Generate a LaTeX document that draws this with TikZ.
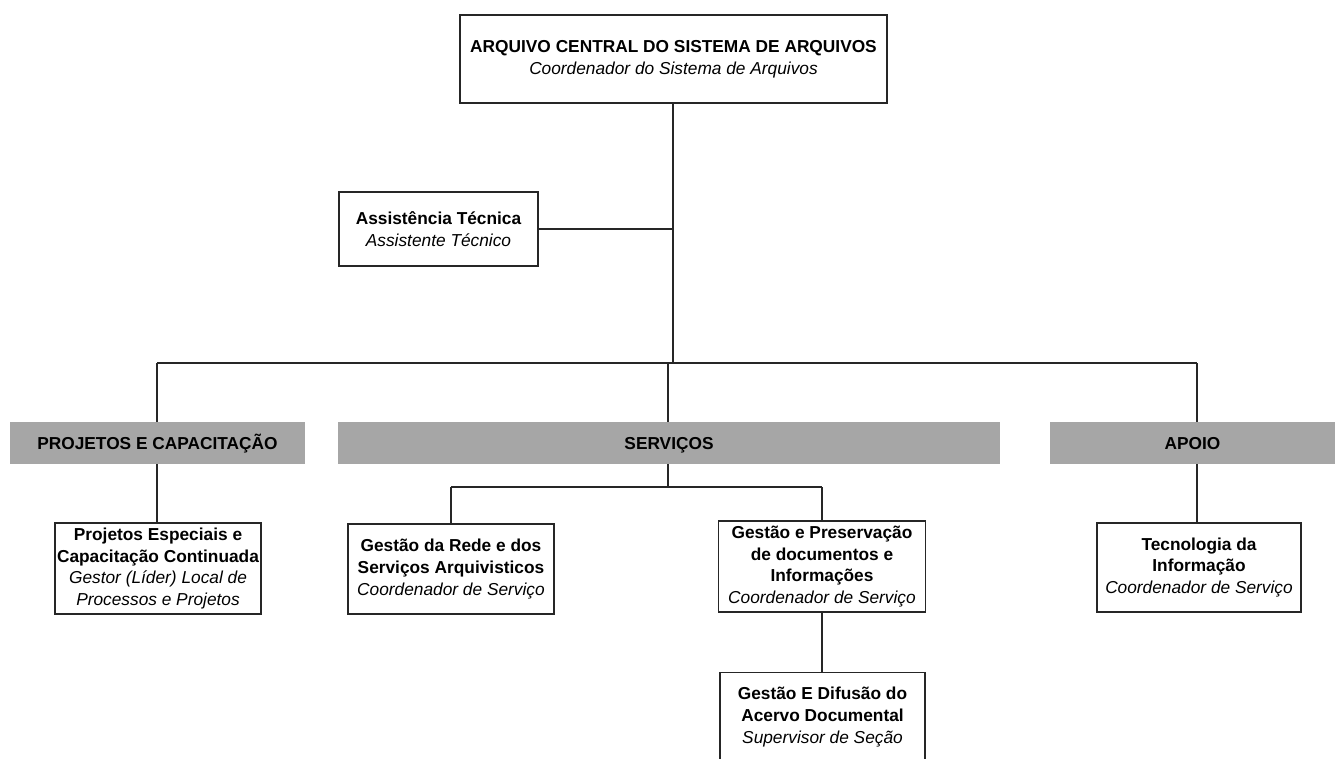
\documentclass[tikz,border=0pt]{standalone}
\usepackage{fontspec}
\setmainfont{Liberation Sans}
\begin{document}
\begin{tikzpicture}[x=1pt,y=-1pt,
  box/.style={draw=black!85, line width=1.2pt, fill=white, align=center, inner sep=0pt, font=\fontsize{17.3}{21.7}\selectfont},
  bar/.style={fill=black!35, draw=none, inner sep=0pt, minimum height=42pt, text height=12.5pt, text depth=0pt, font=\bfseries\fontsize{17.3}{20}\selectfont},
  conn/.style={draw=black!85, line width=1.2pt}]
\useasboundingbox (0,0) rectangle (1335,758);
\clip (0,0) rectangle (1335,758);
\fill[white] (0,0) rectangle (1335,758);
% grey bars
\node[bar, minimum width=295pt] (barP) at (157.5,443) {PROJETOS E CAPACITAÇÃO};
\node[bar, minimum width=662pt] (barS) at (669,443) {SERVIÇOS};
\node[bar, minimum width=285pt] (barA) at (1192.5,443) {APOIO};
% boxes
\node[box, minimum width=427pt, minimum height=88pt] (top) at (673.5,59) {\bfseries ARQUIVO CENTRAL DO SISTEMA DE ARQUIVOS\\\itshape Coordenador do Sistema de Arquivos};
\node[box, minimum width=199pt, minimum height=74pt] (assist) at (438.5,229) {\bfseries Assistência Técnica\\\itshape Assistente Técnico};
\node[box, minimum width=206pt, minimum height=91pt] (proj) at (158,568.5) {\bfseries Projetos Especiais e\\\bfseries Capacitação Continuada\\\itshape Gestor (Líder) Local de\\\itshape Processos e Projetos};
\node[box, minimum width=206pt, minimum height=90pt] (rede) at (451,569) {\bfseries Gestão da Rede e dos\\\bfseries Serviços Arquivisticos\\\itshape Coordenador de Serviço};
\node[box, minimum width=207pt, minimum height=91pt] (pres) at (822,566.5) {\bfseries Gestão e Preservação\\\bfseries de documentos e\\\bfseries Informações\\\itshape Coordenador de Serviço};
\node[box, minimum width=204pt, minimum height=89pt] (tec) at (1199,567.5) {\bfseries Tecnologia da\\\bfseries Informação\\\itshape Coordenador de Serviço};
\node[box, minimum width=205pt, minimum height=100pt, anchor=north] (dif) at (822.5,672) {};
\node[align=center, inner sep=0pt, font=\fontsize{17.3}{21.7}\selectfont] (diftext) at (822.5,717) {\bfseries Gestão E Difusão do\\\bfseries Acervo Documental\\\itshape Supervisor de Seção};
% connectors
\coordinate (j) at (673,363);
\coordinate (jP) at (157,363);
\coordinate (jS) at (668,363);
\coordinate (jA) at (1197,363);
\coordinate (s) at (668,487);
\draw[conn] (top.south -| j) -- (j);
\draw[conn] (assist.east) -- (assist.east -| j);
\draw[conn] (jP) -- (jA);
\draw[conn] (jP) -- (jP |- barP.north);
\draw[conn] (jS) -- (jS |- barS.north);
\draw[conn] (jA) -- (jA |- barA.north);
\draw[conn] (jP |- barP.south) -- (jP |- proj.north);
\draw[conn] (s |- barS.south) -- (s);
\draw[conn] (rede.north |- s) -- (pres.north |- s);
\draw[conn] (rede.north |- s) -- (rede.north);
\draw[conn] (pres.north |- s) -- (pres.north);
\draw[conn] (pres.south) -- (pres.south |- dif.north);
\draw[conn] (jA |- barA.south) -- (jA |- tec.north);
\end{tikzpicture}
\end{document}
